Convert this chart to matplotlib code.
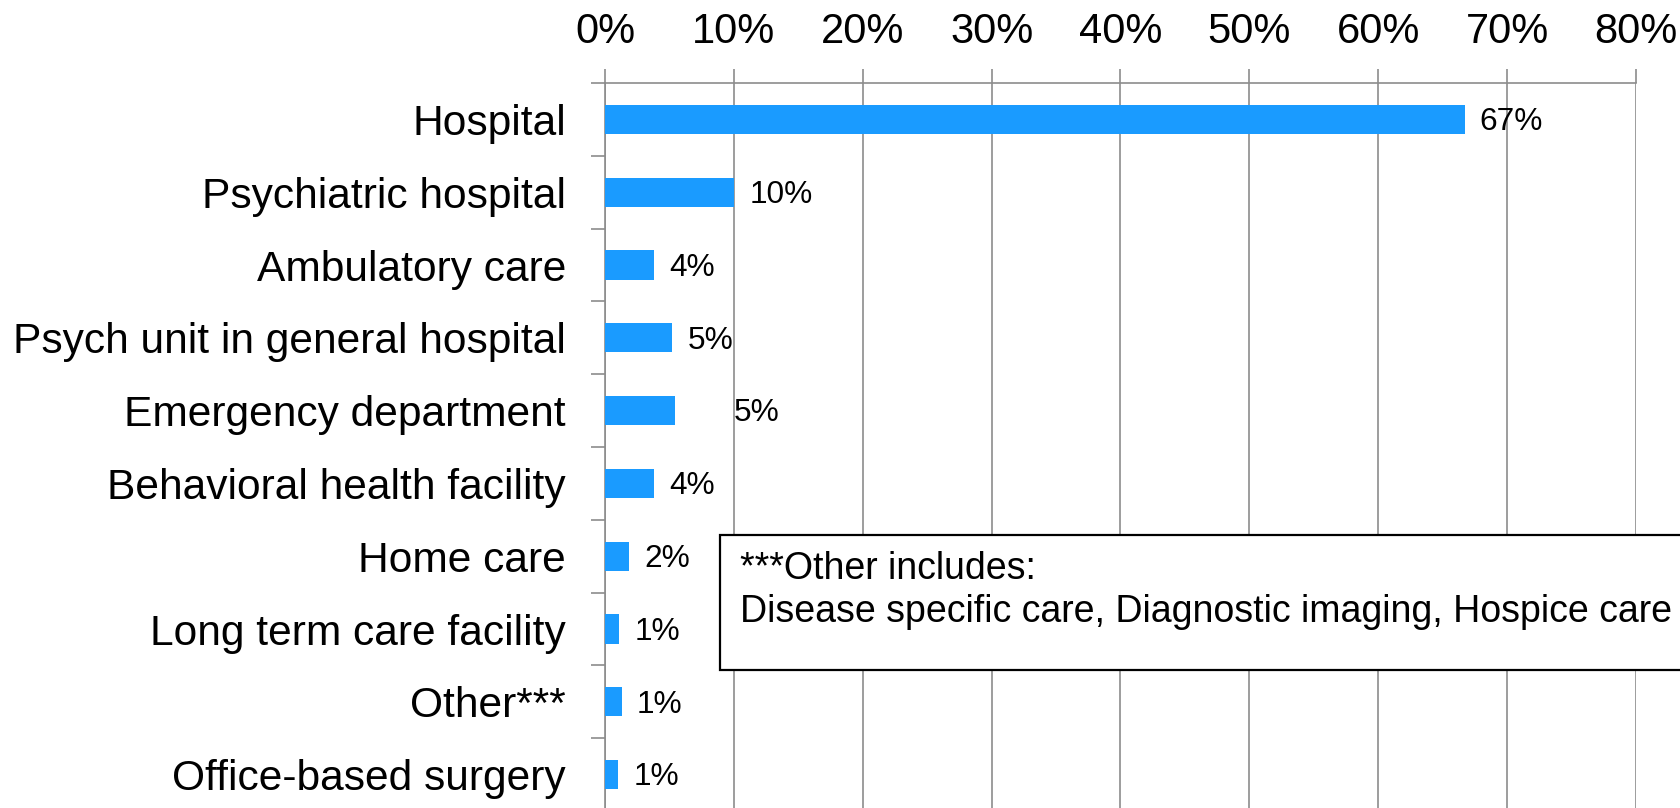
import matplotlib
matplotlib.use('Agg')
import matplotlib.pyplot as plt
from matplotlib.patches import Rectangle

# ================================ DATA ================================ #
CATEGORIES = ['Hospital', 'Psychiatric hospital', 'Ambulatory care',
              'Psych unit in general hospital', 'Emergency department',
              'Behavioral health facility', 'Home care',
              'Long term care facility', 'Other***', 'Office-based surgery']
VALUES     = [66.7, 10.0, 3.8, 5.2, 5.4, 3.8, 1.9, 1.1, 1.3, 1.0]
LABELS     = ['67%', '10%', '4%', '5%', '5%', '4%', '2%', '1%', '1%', '1%']
XTICKS     = [0, 10, 20, 30, 40, 50, 60, 70, 80]
XLABELS    = [f'{t}%' for t in XTICKS]
NOTE       = '***Other includes:\nDisease specific care, Diagnostic imaging, Hospice care'

# ================================ STYLE ================================ #
plt.rcParams['font.family'] = ['Liberation Sans', 'DejaVu Sans']
BAR_COLOR  = '#1a9bff'
GRID_COLOR = '#8c8c8c'
W, H = 1681, 808

fig = plt.figure(figsize=(W/100, H/100), dpi=100)
# axes box: left 605px, right 1636px, top 83px, bottom runs just off the page
ax = fig.add_axes([605/W, (H-811)/H, (1636-605)/W, (811-83)/H])

ypos = list(range(len(CATEGORIES)))
ax.barh(ypos, VALUES, height=0.4, color=BAR_COLOR, zorder=3)

ax.set_xlim(0, 80)
ax.set_ylim(len(CATEGORIES)-0.5, -0.5)

# x axis on top
ax.xaxis.tick_top()
ax.set_xticks(XTICKS)
ax.set_xticklabels(XLABELS, fontsize=30)
ax.tick_params(axis='x', length=10, width=1.2, color=GRID_COLOR, pad=12)
ax.grid(axis='x', color=GRID_COLOR, linewidth=1.2, zorder=1)

# y axis: labels at centres, tick marks at the boundaries
ax.set_yticks(ypos)
ax.set_yticklabels(CATEGORIES, fontsize=30.6)
ax.tick_params(axis='y', which='major', length=0, pad=28)
ax.set_yticks([y - 0.5 for y in ypos] + [len(ypos) - 0.5], minor=True)
ax.tick_params(axis='y', which='minor', length=10, width=1.2, color=GRID_COLOR)

for side in ['right', 'bottom']:
    ax.spines[side].set_visible(False)
for side in ['top', 'left']:
    ax.spines[side].set_color(GRID_COLOR)
    ax.spines[side].set_linewidth(1.2)

# value labels
for i, (v, lab) in enumerate(zip(VALUES, LABELS)):
    if CATEGORIES[i] == 'Emergency department':
        # this one sits on the 10% gridline in the original
        ax.annotate(lab, (10, i), xytext=(0, -2), textcoords='offset points',
                    va='center', ha='left', fontsize=22.8)
    else:
        ax.annotate(lab, (v, i), xytext=(11, -2), textcoords='offset points',
                    va='center', ha='left', fontsize=22.8)

# note box (runs off the right edge)
fig.patches.append(Rectangle((720/W, (H-670)/H), (W+20-720)/W, (670-535)/H,
                             transform=fig.transFigure, facecolor='white',
                             edgecolor='black', linewidth=1.6, zorder=5))
fig.text(740/W, (H-551)/H, NOTE, fontsize=27, va='top', ha='left',
         linespacing=1.25, zorder=6)

fig.savefig('out.png', dpi=100)
